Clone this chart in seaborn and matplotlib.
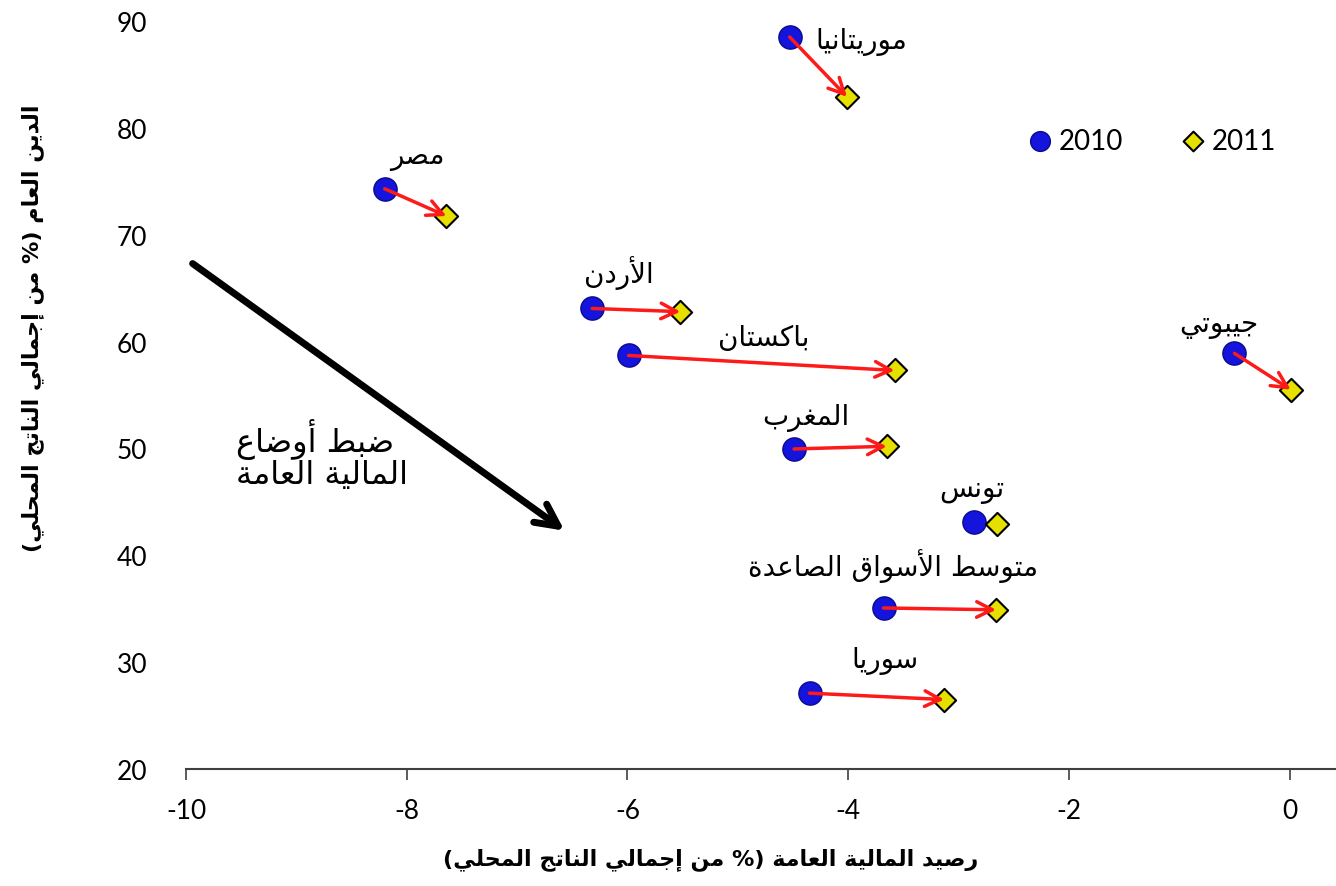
import pandas as pd
import matplotlib
matplotlib.use("Agg")
import matplotlib.pyplot as plt
import seaborn as sns

# data
countries = ["موريتانيا", "مصر", "الأردن", "باكستان", "المغرب", "تونس",
             "متوسط الأسواق الصاعدة", "سوريا", "جيبوتي"]
balance_2010 = [-4.53, -8.20, -6.32, -5.99, -4.49, -2.86, -3.68, -4.35, -0.50]
debt_2010 = [88.5, 74.3, 63.1, 58.7, 49.95, 43.1, 35.07, 27.1, 58.9]
balance_2011 = [-4.01, -7.64, -5.52, -3.58, -3.65, -2.65, -2.66, -3.13, 0.01]
debt_2011 = [82.9, 71.75, 62.8, 57.3, 50.2, 42.9, 34.9, 26.5, 55.5]
draw_arrow = [True, True, True, True, True, False, True, True, True]
label_x = [-3.88, -7.90, -6.08, -4.77, -4.38, -2.88, -3.59, -3.67, -0.64]
label_y = [88.1, 77.4, 66.5, 60.4, 52.9, 46.2, 39.1, 30.2, 61.6]

x_title = "رصيد المالية العامة (% من إجمالي الناتج المحلي)"
y_title = "الدين العام (% من إجمالي الناتج المحلي)"
note = "ضبط أوضاع\nالمالية العامة"

# matplotlib has no arabic shaping, so do it by hand with presentation forms
# kind 0 = no joining, 1 = joins right only, 2 = joins both sides
FORMS = {
    'ء': (0xFE80, 0), 'آ': (0xFE81, 1), 'أ': (0xFE83, 1), 'ؤ': (0xFE85, 1),
    'إ': (0xFE87, 1), 'ئ': (0xFE89, 2), 'ا': (0xFE8D, 1), 'ب': (0xFE8F, 2),
    'ة': (0xFE93, 1), 'ت': (0xFE95, 2), 'ث': (0xFE99, 2), 'ج': (0xFE9D, 2),
    'ح': (0xFEA1, 2), 'خ': (0xFEA5, 2), 'د': (0xFEA9, 1), 'ذ': (0xFEAB, 1),
    'ر': (0xFEAD, 1), 'ز': (0xFEAF, 1), 'س': (0xFEB1, 2), 'ش': (0xFEB5, 2),
    'ص': (0xFEB9, 2), 'ض': (0xFEBD, 2), 'ط': (0xFEC1, 2), 'ظ': (0xFEC5, 2),
    'ع': (0xFEC9, 2), 'غ': (0xFECD, 2), 'ف': (0xFED1, 2), 'ق': (0xFED5, 2),
    'ك': (0xFED9, 2), 'ل': (0xFEDD, 2), 'م': (0xFEE1, 2), 'ن': (0xFEE5, 2),
    'ه': (0xFEE9, 2), 'و': (0xFEED, 1), 'ى': (0xFEEF, 1), 'ي': (0xFEF1, 2),
}
LAM_ALEF = {'آ': 0xFEF5, 'أ': 0xFEF7, 'إ': 0xFEF9, 'ا': 0xFEFB}


def shape_line(text):
    chars = []
    i = 0
    while i < len(text):
        c = text[i]
        if c == 'ل' and i + 1 < len(text) and text[i + 1] in LAM_ALEF:
            chars.append((c, LAM_ALEF[text[i + 1]], 1))
            i += 2
            continue
        if c in FORMS:
            chars.append((c, FORMS[c][0], FORMS[c][1]))
        else:
            chars.append((c, None, -1))
        i += 1
    out = []
    for j, (c, base, kind) in enumerate(chars):
        if base is None:
            out.append(c)
            continue
        if kind == 0:
            out.append(chr(base))
            continue
        prev_joins = j > 0 and chars[j - 1][2] == 2
        next_joins = kind == 2 and j + 1 < len(chars) and chars[j + 1][2] > 0
        if prev_joins and next_joins:
            out.append(chr(base + 3))
        elif prev_joins:
            out.append(chr(base + 1))
        elif next_joins:
            out.append(chr(base + 2))
        else:
            out.append(chr(base))
    # right to left: reverse and mirror brackets
    vis = "".join(out)[::-1]
    return vis.translate(str.maketrans("()", ")("))


def ar(text):
    return "\n".join(shape_line(line) for line in text.split("\n"))


sns.set_style("white")
plt.rcParams['font.family'] = ['Lato', 'DejaVu Sans']
plt.rcParams['axes.unicode_minus'] = False
plt.rcParams['text.color'] = 'black'
plt.rcParams['xtick.color'] = 'black'
plt.rcParams['ytick.color'] = 'black'
plt.rcParams['axes.labelcolor'] = 'black'

df10 = pd.DataFrame({"x": balance_2010, "y": debt_2010})
df11 = pd.DataFrame({"x": balance_2011, "y": debt_2011})

fig = plt.figure(figsize=(13.36, 8.87), dpi=100)
ax = fig.add_axes([186 / 1336, 117 / 887, 1150 / 1336, 748 / 887])

sns.scatterplot(data=df10, x="x", y="y", ax=ax, marker="o", s=280,
                color="#1414dc", edgecolor="#0a0a8c", linewidth=1, label="2010", zorder=3)
sns.scatterplot(data=df11, x="x", y="y", ax=ax, marker="D", s=140,
                color="#e6e000", edgecolor="black", linewidth=1.5, label="2011", zorder=3)

# red arrows 2010 -> 2011
for i in range(len(countries)):
    if draw_arrow[i]:
        ax.annotate("", xy=(balance_2011[i], debt_2011[i]),
                    xytext=(balance_2010[i], debt_2010[i]),
                    arrowprops=dict(arrowstyle="->", color="#ff1a1a", lw=2.5,
                                    mutation_scale=28, shrinkA=0, shrinkB=0),
                    zorder=4)

# country names
for i in range(len(countries)):
    ax.text(label_x[i], label_y[i], ar(countries[i]), ha="center", va="center",
            fontsize=20, family="DejaVu Sans")

# big black arrow + note
ax.annotate("", xy=(-6.57, 42.3), xytext=(-9.94, 67.3),
            arrowprops=dict(arrowstyle="->", color="black", lw=5,
                            mutation_scale=40, shrinkA=0, shrinkB=0))
ax.text(-9.55, 49.5, ar(note), ha="left", va="center", fontsize=23,
        family="DejaVu Sans", linespacing=1.0)

ax.set_xlim(-10, 0.42)
ax.set_ylim(20, 90)
ax.set_xticks([-10, -8, -6, -4, -2, 0])
ax.set_yticks([20, 30, 40, 50, 60, 70, 80, 90])
ax.tick_params(axis="x", direction="out", length=8, width=1.2, color="#404040",
               pad=13, labelsize=19, bottom=True)
ax.tick_params(axis="y", length=0, pad=28, labelsize=19)

for side in ["top", "right", "left"]:
    ax.spines[side].set_visible(False)
ax.spines["bottom"].set_color("#404040")
ax.spines["bottom"].set_linewidth(1.5)

ax.set_xlabel(ar(x_title), fontsize=16, fontweight="bold", family="DejaVu Sans")
ax.set_ylabel(ar(y_title), fontsize=16, fontweight="bold", family="DejaVu Sans")
ax.xaxis.set_label_coords(0.4565, -0.104)
ax.yaxis.set_label_coords(-0.1235, 0.591)

ax.legend(loc="center", bbox_to_anchor=(0.839, 0.84), ncol=2, frameon=False,
          fontsize=20, handlelength=1.0, handletextpad=0.18, columnspacing=2.0,
          markerscale=0.85)

fig.savefig("out.png", dpi=100)
